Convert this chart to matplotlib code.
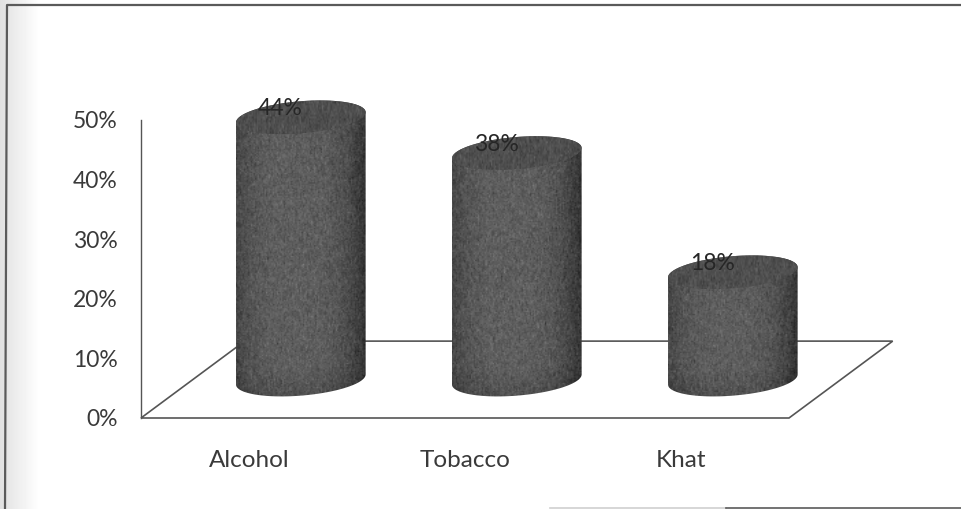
"""
Substance use: 3D style cylinder chart drawn on a flat matplotlib axes.
"""
import numpy as np
import matplotlib
matplotlib.use('Agg')
import matplotlib.pyplot as plt
from matplotlib.patches import PathPatch, Polygon
from matplotlib.path import Path

### Chart values
categories = ['Alcohol', 'Tobacco', 'Khat']
values = [44, 38, 18]
value_labels = ['44%', '38%', '18%']
y_ticks = [0, 10, 20, 30, 40, 50]
y_tick_labels = ['0%', '10%', '20%', '30%', '40%', '50%']

W, H = 962, 509
TEXT = '#3a3a3a'
plt.rcParams['font.family'] = ['Lato', 'DejaVu Sans']

fig = plt.figure(figsize=(W / 100, H / 100), dpi=100, facecolor='white')

### Page frame and the grey strip on the left
bg = fig.add_axes([0, 0, 1, 1])
bg.imshow(np.linspace(0.88, 1, 40)[None, :], cmap='gray', vmin=0, vmax=1,
          extent=[0, 40, H, 0], aspect='auto')
bg.set_xlim(0, W)
bg.set_ylim(H, 0)
bg.axis('off')
bg.plot([5, 7, W], [H, 5, 5], color='#5a5a5a', lw=1.6)
bg.plot([550, 726], [508, 508], color='#cfcfcf', lw=1.2)
bg.plot([726, W], [508, 508], color='#5a5a5a', lw=1.2)

### Plot axes: one x unit is one category, y is in percent
ax = fig.add_axes([141 / W, 1 - 418 / H, 648 / W, 298 / H])
ax.patch.set_alpha(0)
for side in ['top', 'right', 'bottom']:
    ax.spines[side].set_visible(False)
ax.spines['left'].set_color('#555555')
ax.spines['left'].set_linewidth(1)
ax.set_xticks(range(len(categories)))
ax.set_xticklabels(categories, fontsize=17.5, color=TEXT)
ax.set_yticks(y_ticks)
ax.set_yticklabels(y_tick_labels, fontsize=16.5, color=TEXT)
ax.tick_params(axis='both', length=0)
ax.tick_params(axis='x', pad=23)
ax.tick_params(axis='y', pad=17)

### Floor of the 3D box
depth_x, depth_y = 0.48, 12.9
floor = Polygon([(-0.5, 0), (2.5, 0), (2.5 + depth_x, depth_y), (-0.5 + depth_x, depth_y)],
                closed=True, fill=False, edgecolor='#555555', lw=1.2, clip_on=False)
ax.add_patch(floor)

half_w, half_h, tilt = 0.30, 2.7, 0.85
t = np.linspace(0, 2 * np.pi, 121)

def ellipse(cx, cy):
    return (cx + half_w * np.cos(t), cy + half_h * np.sin(t) + tilt * np.cos(t))

### Grain for the cylinder surface
rng = np.random.RandomState(7)

def grain(shape, size):
    noise = rng.normal(0, 1, shape)
    # short vertical streaks on top of the pixel noise
    streak = rng.normal(0, 1, shape)
    streak = (streak + np.roll(streak, 1, 0) + np.roll(streak, 2, 0)) / 1.7
    return size * (0.7 * noise + 0.6 * streak)

for i, v in enumerate(values):
    cx = i + depth_x / 2
    base = depth_y / 2
    top = base + v
    xt, yt = ellipse(cx, top)

    # body outline: round the bottom, up the right side, over the top, down the left
    lower = t[t >= np.pi]
    upper = t[t <= np.pi]
    bx = cx + half_w * np.cos(lower)
    by = base + half_h * np.sin(lower) + tilt * np.cos(lower)
    ux = cx + half_w * np.cos(upper)
    uy = top + half_h * np.sin(upper) + tilt * np.cos(upper)
    body = np.column_stack([np.r_[bx, ux], np.r_[by, uy]])
    clip = PathPatch(Path(np.vstack([body, body[0]])), transform=ax.transData,
                     facecolor='none', edgecolor='none')
    ax.add_patch(clip)

    # shading across the cylinder, a little darker toward the base, with grain added
    ny = max(int((top - base + 2 * half_h + 2) * 4.5), 8)
    nx = 100
    u = np.linspace(-1, 1, nx)
    shade = 0.37 - 0.15 * np.abs(u + 0.1) ** 3
    img = np.tile(shade, (ny, 1))
    rows = np.linspace(top + half_h + 1.2, base - half_h - 1.2, ny)
    img = img - 0.07 * np.clip((base + 2 - rows) / 6, 0, 1)[:, None]
    img = img + grain((ny, nx), 0.036)
    body_im = ax.imshow(img, cmap='gray', vmin=0, vmax=1, aspect='auto', zorder=3,
                        extent=[cx - half_w * 1.05, cx + half_w * 1.05,
                                base - half_h - 1.2, top + half_h + 1.2],
                        clip_path=clip, interpolation='bilinear')
    # images fall back to the axes box otherwise, and the caps stick out of it
    body_im.set_clip_box(fig.bbox)

    # darker cap
    cap = PathPatch(Path(np.column_stack([xt, yt])), transform=ax.transData,
                    facecolor='none', edgecolor='none')
    ax.add_patch(cap)
    capimg = 0.31 + grain((24, nx), 0.032)
    cap_im = ax.imshow(capimg, cmap='gray', vmin=0, vmax=1, aspect='auto', zorder=4,
                       extent=[cx - half_w, cx + half_w, top - half_h - 1, top + half_h + 1],
                       clip_path=cap, interpolation='bilinear')
    cap_im.set_clip_box(fig.bbox)

    # value label sits on the back rim of the cap
    ax.text(i + 0.145, top + 1.45, value_labels[i], ha='center', va='center',
            fontsize=16.5, color='#262626', zorder=5, clip_on=False)

ax.set_xlim(-0.5, 2.5)
ax.set_ylim(0, 50)

plt.savefig('out.png', dpi=100)
